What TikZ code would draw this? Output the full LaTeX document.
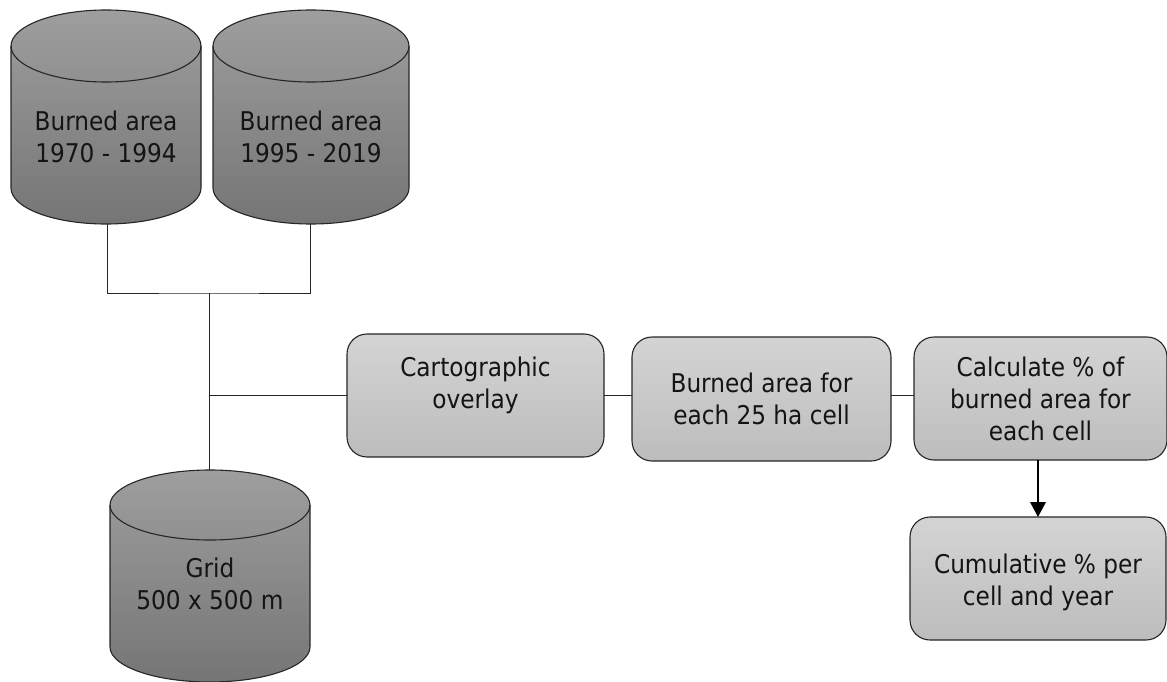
\documentclass[tikz,border=0pt]{standalone}
\usepackage{fontspec}
\setmainfont{DejaVu Sans Condensed}
\usetikzlibrary{arrows.meta,backgrounds,calc}
\tikzset{
  x=1pt,y=-1pt,
  lbl/.style={text=black!92,font=\fontsize{25.8}{32}\selectfont,align=center,inner sep=0pt},
  drum/.style={rectangle,inner sep=0pt,outer sep=0pt},
  drumskin/.style={draw=black!85,line width=1.1pt,top color=black!38,bottom color=black!54},
  drumrim/.style={draw=black!85,line width=1.1pt},
  procbox/.style={draw=black!85,line width=1.1pt,rectangle,rounded corners=20pt,inner sep=0pt,outer sep=0pt,top color=black!17,bottom color=black!26},
  link/.style={draw=black!85,line width=0.9pt},
  flow/.style={draw=black,line width=2pt,-{Triangle[width=15.5pt,length=15pt]}}
}
% #1 node name, #2 half width in pt, #3 height of the end ellipse in pt
\newcommand\drumbody[3]{%
  \begin{scope}[on background layer]
    \path[drumskin] (#1.north west) ++(0,#3)
      arc[start angle=180,end angle=0,x radius=#2pt,y radius=#3pt]
      -- ($(#1.south east)+(0,-#3)$)
      arc[start angle=0,end angle=-180,x radius=#2pt,y radius=#3pt]
      -- cycle;
    \path[drumrim] (#1.north west) ++(0,#3)
      arc[start angle=180,end angle=360,x radius=#2pt,y radius=#3pt];
  \end{scope}}
\begin{document}
\begin{tikzpicture}
\useasboundingbox (0,0) rectangle (1167,682);
\node[drum,minimum width=190pt,minimum height=214pt,label={[lbl,yshift=-20pt]center:Burned area\\1970 - 1994}] (a) at (106,117) {};
\node[drum,minimum width=196pt,minimum height=214pt,label={[lbl,yshift=-20pt]center:Burned area\\1995 - 2019}] (b) at (311,117) {};
\node[drum,minimum width=200pt,minimum height=212pt,label={[lbl,yshift=-8pt]center:Grid\\500 x 500 m}] (c) at (210,576) {};
\drumbody{a}{95}{36}
\drumbody{b}{98}{36}
\drumbody{c}{100}{35}
\node[procbox,minimum width=257pt,minimum height=123pt,label={[lbl,yshift=10pt]center:Cartographic\\overlay}] (d) at (475.5,395.5) {};
\node[procbox,minimum width=259pt,minimum height=124pt,label={[lbl]center:Burned area for\\each 25 ha cell}] (e) at (761.5,399) {};
\node[procbox,minimum width=253pt,minimum height=123pt,label={[lbl]center:Calculate \% of\\burned area for\\each cell}] (f) at (1040.5,398.5) {};
\node[procbox,minimum width=256pt,minimum height=123pt,label={[lbl,yshift=-4pt]center:Cumulative \% per\\cell and year}] (g) at (1038,578.5) {};
\coordinate (j1) at (209,293);
\coordinate (j2) at (209,395);
\draw[link] ([xshift=1pt]a.south) |- (j1) -| ([xshift=-1pt]b.south);
\draw[link] (j1) -- (j1 |- c.north);
\draw[link] (j2) -- (j2 -| d.west);
\draw[link] (d.east |- j2) -- (e.west |- j2);
\draw[link] (e.east |- j2) -- (f.west |- j2);
\draw[flow] (f.south -| g.north) -- (g.north);
\end{tikzpicture}
\end{document}
